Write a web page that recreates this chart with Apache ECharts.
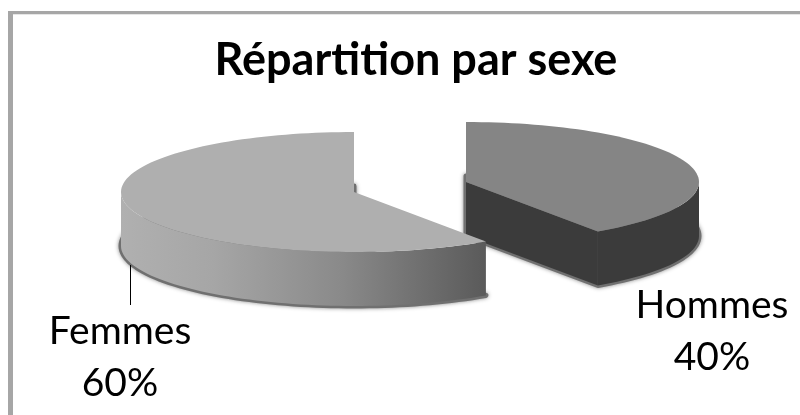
<!DOCTYPE html>
<html>
<head>
<meta charset="utf-8">
<style>
  html, body { margin: 0; padding: 0; background: #fff; }
  #chart { width: 800px; height: 415px; }
</style>
</head>
<body>
<div id="chart"></div>
<script src="https://cdn.jsdelivr.net/npm/echarts@6/dist/echarts.min.js"></script>
<script>
var categories = ['Hommes', 'Femmes'];
var shares = [40, 60];

var RX = 233, RY = 60, DEPTH = 54;
var SKEW = -1.6; // petite deformation de la vue 3D
// centre de chaque part (la part Hommes est detachee)
var centers = [[466, 182], [354, 192]];
var labelPos = [[712, 305, 357], [120, 331, 383]];
var leader = [130.5, 265, 130.5, 305];
var topColors = ['#858585', '#afafaf'];
var wallColors = ['#3b3b3b', null];

function pt(c, deg, dy) {
  var a = (deg + SKEW * Math.sin(2 * deg * Math.PI / 180)) * Math.PI / 180;
  return [c[0] + RX * Math.sin(a), c[1] + dy - RY * Math.cos(a)];
}

function arc(c, from, to, dy) {
  var pts = [];
  var n = Math.max(2, Math.ceil(Math.abs(to - from) / 2));
  for (var i = 0; i <= n; i++) pts.push(pt(c, from + (to - from) * i / n, dy));
  return pts;
}

function renderItem(params, api) {
  var i = params.dataIndex;
  var total = shares.reduce(function (a, b) { return a + b; }, 0);
  var before = 0;
  for (var k = 0; k < i; k++) before += shares[k];
  var start = before / total * 360;
  var end = start + api.value(0) / total * 360;
  var c = centers[i];
  var children = [];

  // ombre : secteur du bas, un peu deborde
  var bottomC = [c[0], c[1] + DEPTH];
  children.push({
    type: 'polygon',
    shape: { points: [bottomC].concat(arc(c, start, end, DEPTH)) },
    style: { fill: '#707070', stroke: '#707070', lineWidth: 5, lineJoin: 'round', shadowBlur: 4, shadowColor: '#999' }
  });

  // paroi exterieure visible (90 a 270 degres)
  var wallFrom = Math.max(start, 90), wallTo = Math.min(end, 270);
  var wallFill = wallColors[i] || new echarts.graphic.LinearGradient(0, 0, 1, 0, [
    { offset: 0, color: '#b0b0b0' },
    { offset: 0.25, color: '#a6a6a6' },
    { offset: 0.6, color: '#8a8a8a' },
    { offset: 1, color: '#5a5a5a' }
  ]);
  children.push({
    type: 'polygon',
    shape: { points: arc(c, wallFrom, wallTo, 0).concat(arc(c, wallTo, wallFrom, DEPTH)) },
    style: { fill: wallFill }
  });

  // face de coupe vers l'avant
  if (end < 180) {
    children.push({
      type: 'polygon',
      shape: { points: [c, pt(c, end, 0), pt(c, end, DEPTH), bottomC] },
      style: { fill: wallColors[i] }
    });
  }

  // dessus
  children.push({
    type: 'polygon',
    shape: { points: [c].concat(arc(c, start, end, 0)) },
    style: { fill: topColors[i] }
  });

  var lp = labelPos[i];
  var font = { fontFamily: 'Lato', fontSize: 39, fill: '#000', align: 'center', verticalAlign: 'middle' };
  children.push({ type: 'text', style: Object.assign({ x: lp[0], y: lp[1], text: categories[i] }, font) });
  children.push({ type: 'text', style: Object.assign({ x: lp[0], y: lp[2], text: Math.round(api.value(0) / total * 100) + '%' }, font) });

  if (i === 1) {
    children.push({
      type: 'line',
      shape: { x1: leader[0], y1: leader[1], x2: leader[2], y2: leader[3] },
      style: { stroke: '#000', lineWidth: 1 }
    });
  }
  return { type: 'group', children: children };
}

var chart = echarts.init(document.getElementById('chart'));
chart.setOption({
  animation: false,
  backgroundColor: '#fff',
  title: {
    text: 'Répartition par sexe',
    left: 411,
    top: 33,
    textAlign: 'center',
    textStyle: { fontFamily: 'Lato', fontWeight: 'bold', fontSize: 45, color: '#000' }
  },
  graphic: [
    { type: 'rect', shape: { x: 8, y: 11, width: 792, height: 3 }, style: { fill: '#a6a6a6' } },
    { type: 'rect', shape: { x: 13, y: 14, width: 787, height: 1 }, style: { fill: '#e6e6e6' } },
    { type: 'rect', shape: { x: 8, y: 11, width: 5, height: 404 }, style: { fill: '#a6a6a6' } }
  ],
  series: [{
    type: 'custom',
    coordinateSystem: 'none',
    renderItem: renderItem,
    silent: true,
    data: shares.map(function (v) { return [v]; })
  }]
});
</script>
</body>
</html>
